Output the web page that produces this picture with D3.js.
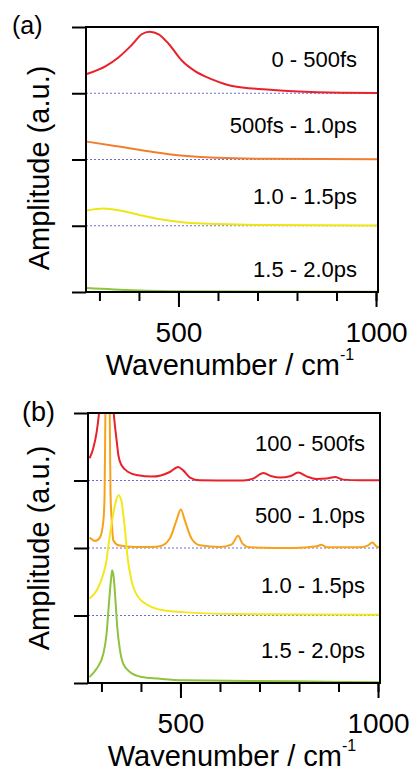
<!DOCTYPE html>
<html>
<head>
<meta charset="utf-8">
<script src="https://cdn.jsdelivr.net/npm/d3@7"></script>
<style>
  body { margin: 0; background: #fff; }
  svg { display: block; font-family: "Liberation Sans", Arial, sans-serif; }
</style>
</head>
<body>
<svg id="chart" width="411" height="771"></svg>
<script>
// wavenumber range shared by both panels
const wnDomain = [266, 1005];
const minorTicks = [300, 400, 500, 600, 700, 800, 900, 1000];
const majorTicks = [500, 1000];
const yTicks = [0, 1, 2, 3, 4];
const offsets = [3, 2, 1, 0];

// panel (a): [wavenumber, amplitude above its baseline]
const aRed = [[268, 0.29], [316, 0.41], [348, 0.54], [382, 0.73], [407, 0.89], [427, 0.93], [450, 0.89],
  [476, 0.74], [509, 0.49], [543, 0.33], [585, 0.21], [636, 0.11], [724, 0.056], [850, 0.015], [1005, 0.005]];
const aOrange = [[268, 0.27], [344, 0.2], [429, 0.12], [513, 0.056], [598, 0.026], [724, 0.01], [1005, 0.003]];
const aYellow = [[268, 0.23], [310, 0.26], [352, 0.23], [403, 0.16], [454, 0.097], [521, 0.045],
  [598, 0.026], [724, 0.01], [1005, 0.003]];
const aGreen = [[268, 0.06], [386, 0.026], [513, 0.01], [1005, 0.005]];
const aLabels = ["0 - 500fs", "500fs - 1.0ps", "1.0 - 1.5ps", "1.5 - 2.0ps"];

// panel (b)
const bRed = [[270, 0.33], [279, 0.47], [288, 0.72], [294, 1.0], [303, 1.6], [312, 2.0], [321, 1.6], [331, 1.0],
  [334, 0.82], [339, 0.57], [343, 0.37], [351, 0.225], [368, 0.126], [393, 0.077], [427, 0.058], [450, 0.075],
  [473, 0.126], [494, 0.2], [507, 0.15], [524, 0.043], [549, 0.003], [659, 0.0], [684, 0.028], [710, 0.11],
  [731, 0.062], [752, 0.043], [777, 0.062], [798, 0.117], [819, 0.062], [845, 0.022], [870, 0.028],
  [891, 0.052], [912, 0.013], [954, 0.003], [1005, 0.003]];
const bOrange = [[270, 0.154], [284, 0.104], [296, 0.154], [305, 0.41], [308, 0.8], [310, 2.0], [315.5, 3.5],
  [321, 2.0], [323, 0.8], [326, 0.41], [330, 0.114], [343, 0.04], [385, 0.015], [427, 0.015], [448, 0.025],
  [473, 0.14], [490, 0.41], [501, 0.57], [511, 0.41], [528, 0.14], [549, 0.04], [600, 0.015], [630, 0.055],
  [646, 0.18], [657, 0.065], [676, 0.01], [786, 0.0], [845, 0.025], [857, 0.05], [870, 0.01], [954, 0.01],
  [975, 0.04], [986, 0.08], [996, 0.025], [1005, 0.01]];
const bYellow = [[270, 0.25], [288, 0.37], [305, 0.62], [313, 0.82], [317, 1.01], [327, 1.41], [336, 1.68],
  [343, 1.78], [350, 1.71], [358, 1.36], [366, 0.87], [376, 0.52], [393, 0.274], [419, 0.151], [457, 0.077],
  [507, 0.05], [634, 0.022], [1005, 0.01]];
const bGreen = [[270, 0.089], [288, 0.213], [305, 0.436], [313, 0.73], [319, 1.18], [324, 1.52], [327, 1.67],
  [331, 1.57], [336, 1.18], [340, 0.83], [347, 0.484], [355, 0.287], [372, 0.163], [402, 0.089], [444, 0.065],
  [507, 0.04], [786, 0.025], [1005, 0.01]];
const bLabels = ["100 - 500fs", "500 - 1.0ps", "1.0 - 1.5ps", "1.5 - 2.0ps"];

const panels = [
  { tag: "(a)", tagX: 12, left: 86, right: 378, top: 27, bottom: 292, tagY: 34, labelX: 357,
    labelY: [3.39, 2.40, 1.33, 0.22], yTitle: 168,
    series: [aRed, aOrange, aYellow, aGreen], labels: aLabels,
    colors: ["#e8222b", "#f27d2e", "#f0e514", "#8cc43c"] },
  { tag: "(b)", tagX: 22, left: 88, right: 380, top: 413, bottom: 683, tagY: 421, labelX: 365,
    labelY: [3.43, 2.37, 1.33, 0.37], yTitle: 548,
    series: [bRed, bOrange, bYellow, bGreen], labels: bLabels,
    colors: ["#e8222b", "#f7a21b", "#f2e81c", "#8cc43c"] }
];

const svg = d3.select("#chart");

panels.forEach(function (p, pi) {
  let x = d3.scaleLinear().domain(wnDomain).range([p.left, p.right]);
  let y = d3.scaleLinear().domain([0, 4]).range([p.bottom, p.top]);
  let g = svg.append("g");

  let clipId = "clip" + pi;
  svg.append("clipPath").attr("id", clipId)
    .append("rect")
    .attr("x", p.left).attr("y", p.top)
    .attr("width", p.right - p.left).attr("height", p.bottom - p.top);

  // dotted baselines
  g.selectAll(".base")
    .data([1, 2, 3])
    .enter()
    .append("line")
    .attr("class", "base")
    .attr("x1", p.left).attr("x2", p.right)
    .attr("y1", d => y(d)).attr("y2", d => y(d))
    .attr("stroke", "#6c6cd6")
    .attr("stroke-width", 1)
    .attr("stroke-dasharray", "2,2");

  // traces
  let line = d3.line()
    .x(d => x(d[0]))
    .y(d => d[1])
    .curve(d3.curveMonotoneX);
  let traces = g.append("g").attr("clip-path", "url(#" + clipId + ")");
  p.series.forEach(function (s, i) {
    traces.append("path")
      .datum(s.map(d => [d[0], y(d[1] + offsets[i])]))
      .attr("fill", "none")
      .attr("stroke", p.colors[i])
      .attr("stroke-width", 2)
      .attr("stroke-linejoin", "round")
      .attr("d", line);
  });

  // frame
  g.append("rect")
    .attr("x", p.left).attr("y", p.top)
    .attr("width", p.right - p.left).attr("height", p.bottom - p.top)
    .attr("fill", "none")
    .attr("stroke", "#000")
    .attr("stroke-width", 2);

  // axes
  let minor = g.append("g")
    .attr("transform", "translate(0," + p.bottom + ")")
    .call(d3.axisBottom(x).tickValues(minorTicks).tickSize(9).tickFormat(""));
  let major = g.append("g")
    .attr("transform", "translate(0," + p.bottom + ")")
    .call(d3.axisBottom(x).tickValues(majorTicks).tickSize(15).tickPadding(15).tickFormat(d3.format("d")));
  let yAx = g.append("g")
    .attr("transform", "translate(" + p.left + ",0)")
    .call(d3.axisLeft(y).tickValues(yTicks).tickSize(14).tickFormat(""));
  [minor, major, yAx].forEach(function (a) {
    a.select(".domain").remove();
    a.selectAll(".tick line").attr("stroke", "#000").attr("stroke-width", 2);
  });
  major.selectAll(".tick text")
    .attr("fill", "#000")
    .style("font-size", "28px")
    .style("font-family", "'Liberation Sans', Arial, sans-serif");

  // series labels
  g.selectAll(".lbl")
    .data(p.labels)
    .enter()
    .append("text")
    .attr("class", "lbl")
    .attr("x", p.labelX)
    .attr("y", (d, i) => y(p.labelY[i]))
    .attr("text-anchor", "end")
    .style("font-size", "22px")
    .text(d => d);

  // titles
  let xt = g.append("text")
    .attr("x", (p.left + p.right) / 2 - 2)
    .attr("y", p.bottom + 83)
    .attr("text-anchor", "middle")
    .style("font-size", "29px")
    .text("Wavenumber / cm");
  xt.append("tspan")
    .attr("dy", -15)
    .style("font-size", "16px")
    .text("-1");

  g.append("text")
    .attr("transform", "translate(49," + p.yTitle + ") rotate(-90)")
    .attr("text-anchor", "middle")
    .style("font-size", "29px")
    .text("Amplitude (a.u.)");

  g.append("text")
    .attr("x", p.tagX)
    .attr("y", p.tagY)
    .style("font-size", pi === 0 ? "25px" : "27px")
    .text(p.tag);
});
</script>
</body>
</html>
